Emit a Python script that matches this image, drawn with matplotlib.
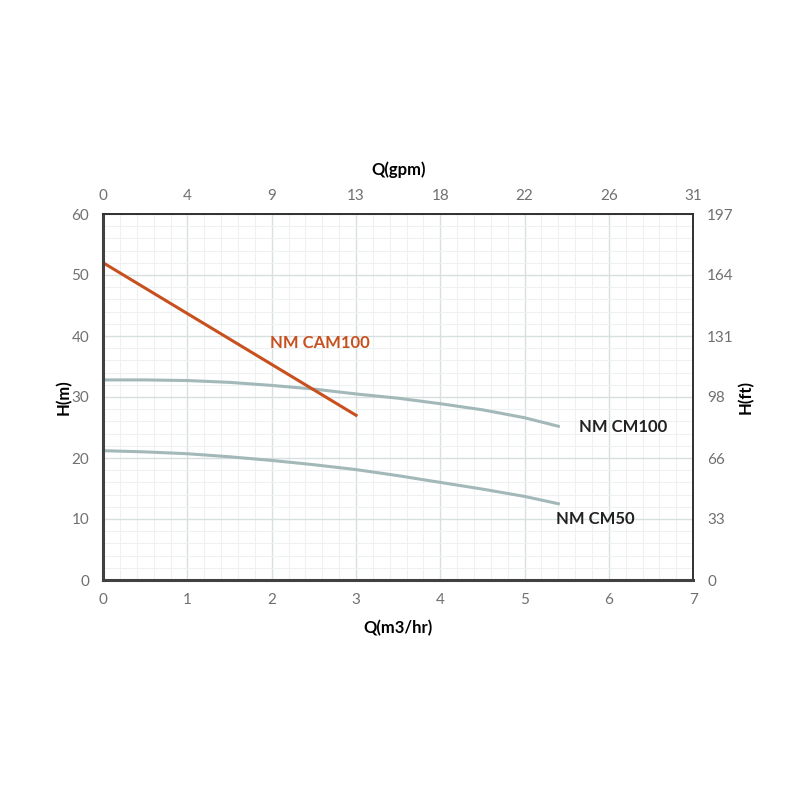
import matplotlib.pyplot as plt
from matplotlib.ticker import MultipleLocator

# flow in m3/hr, head in m
cm100_q = [0, 0.5, 1, 1.5, 2, 2.5, 3, 3.5, 4, 4.5, 5, 5.4]
cm100_h = [32.8, 32.8, 32.7, 32.4, 31.9, 31.3, 30.5, 29.8, 28.9, 27.9, 26.6, 25.2]

cm50_q = [0, 0.5, 1, 1.5, 2, 2.5, 3, 3.5, 4, 4.5, 5, 5.4]
cm50_h = [21.2, 21.0, 20.7, 20.2, 19.6, 18.9, 18.1, 17.1, 16.0, 14.9, 13.7, 12.5]

cam100_q = [0, 3]
cam100_h = [52, 27]

gpm_ticks = ["0", "4", "9", "13", "18", "22", "26", "31"]
ft_ticks = ["0", "33", "66", "98", "131", "164", "197"]

plt.rcParams['font.family'] = ['Lato', 'DejaVu Sans']

fig = plt.figure(figsize=(8, 8), dpi=100)
ax = fig.add_axes([0.129, 0.275, 0.7375, 0.4575])

gray_curve = "#a3b8b8"
orange = "#c8501e"
tick_color = "#707070"

ax.plot(cm100_q, cm100_h, color=gray_curve, lw=2.2)
ax.plot(cm50_q, cm50_h, color=gray_curve, lw=2.2)
ax.plot(cam100_q, cam100_h, color=orange, lw=2.2)

ax.set_xlim(0, 7)
ax.set_ylim(0, 60)
ax.xaxis.set_major_locator(MultipleLocator(1))
ax.xaxis.set_minor_locator(MultipleLocator(0.2))
ax.yaxis.set_major_locator(MultipleLocator(10))
ax.yaxis.set_minor_locator(MultipleLocator(2))
ax.grid(which="major", color="#d8dfe0", lw=1.0)
ax.grid(which="minor", color="#eef1f2", lw=0.8)
ax.set_axisbelow(True)

ax.tick_params(which="both", length=0, labelsize=11, labelcolor=tick_color)
ax.tick_params(axis="x", pad=9)
ax.tick_params(axis="y", pad=10)

for side in ["left", "bottom"]:
    ax.spines[side].set_linewidth(2.2)
    ax.spines[side].set_color("#404040")
for side in ["top", "right"]:
    ax.spines[side].set_linewidth(1.4)
    ax.spines[side].set_color("#303030")

ax.set_xlabel("Q(m3/hr)", fontsize=12, fontweight="bold", labelpad=10)
ax.set_ylabel("H(m)", fontsize=12, fontweight="bold", labelpad=0)

# secondary scales
top = ax.twiny()
top.set_xlim(0, 7)
top.set_xticks(range(8))
top.set_xticklabels(gpm_ticks)
top.tick_params(length=0, labelsize=11, labelcolor=tick_color, pad=8)
top.set_xlabel("Q(gpm)", fontsize=12, fontweight="bold", labelpad=10)

right = ax.twinx()
right.set_ylim(0, 60)
right.set_yticks(range(0, 61, 10))
right.set_yticklabels(ft_ticks)
right.tick_params(length=0, labelsize=11, labelcolor=tick_color, pad=10)
right.set_ylabel("H(ft)", fontsize=12, fontweight="bold", labelpad=3)
for a in (top, right):
    for s in a.spines.values():
        s.set_visible(False)

ax.text(1.98, 38.9, "NM CAM100", color=orange, fontsize=12, fontweight="bold", va="center")
ax.text(5.64, 25.0, "NM CM100", color="#222222", fontsize=12, fontweight="bold", va="center")
ax.text(5.37, 10.0, "NM CM50", color="#222222", fontsize=12, fontweight="bold", va="center")

fig.savefig("out.png", dpi=100)
